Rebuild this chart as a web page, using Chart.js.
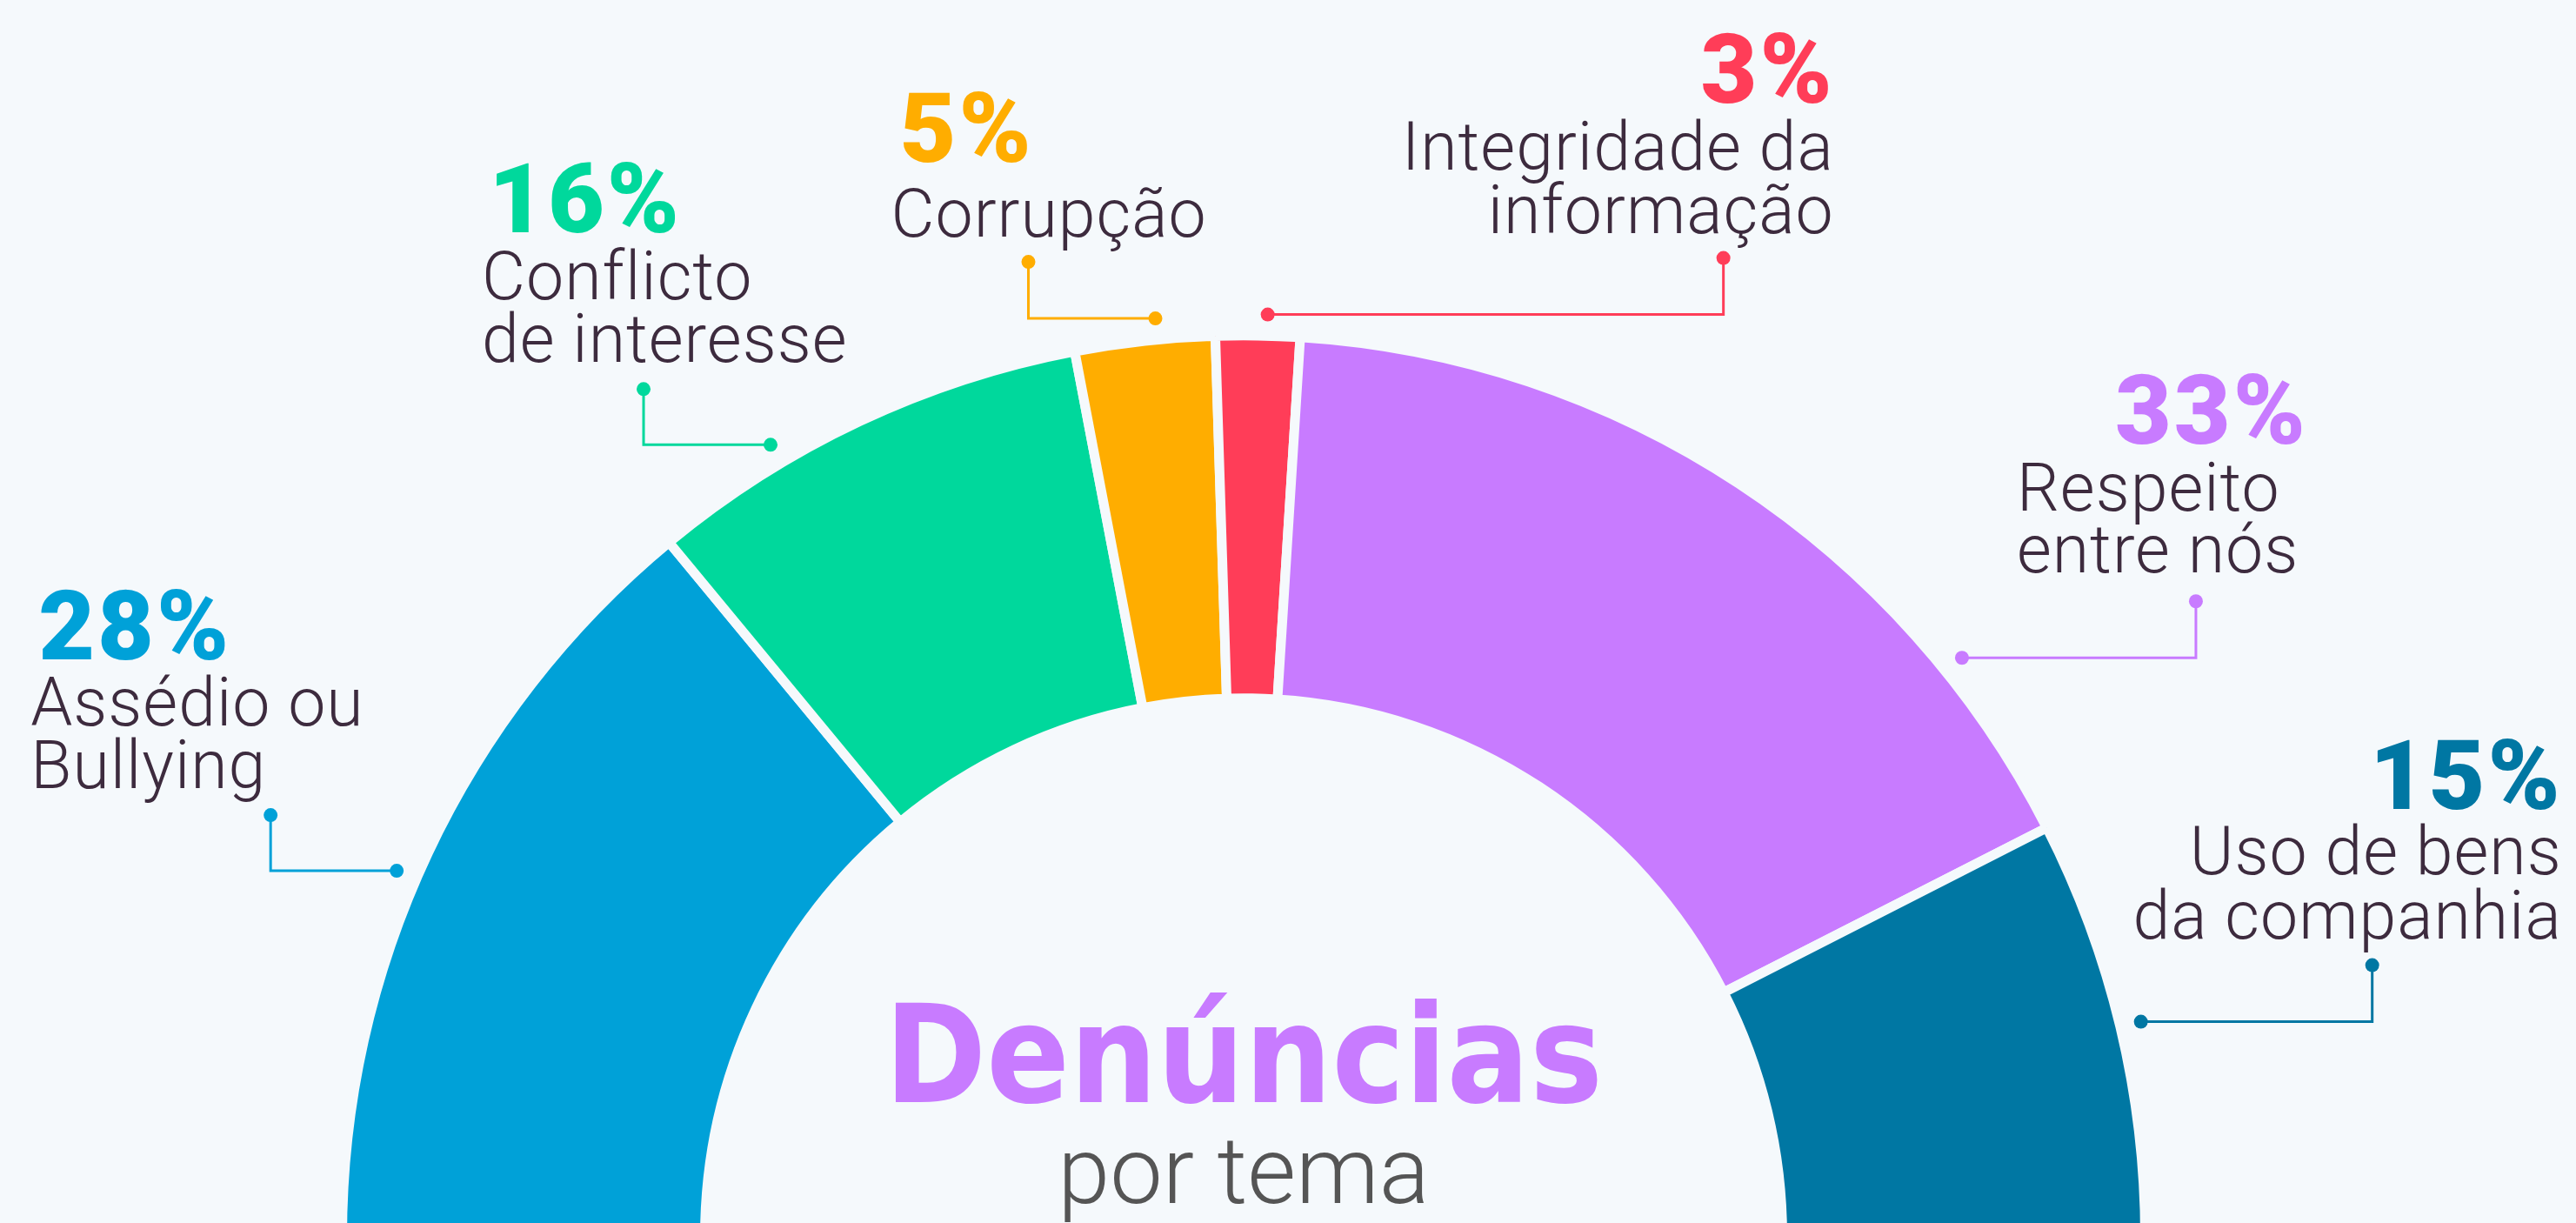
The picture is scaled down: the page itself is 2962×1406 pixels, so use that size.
<!DOCTYPE html>
<html lang="pt">
<head>
<meta charset="utf-8">
<title>Denúncias por tema</title>
<script src="https://cdn.jsdelivr.net/npm/chart.js@4.4.1/dist/chart.umd.min.js"></script>
<style>
  html, body { margin: 0; padding: 0; background: #f5f9fc; overflow: hidden; }
  #wrap { width: 2962px; height: 1406px; overflow: hidden; position: relative; }
  canvas { display: block; }
</style>
</head>
<body>
<div id="wrap"><canvas id="chart" width="2962" height="1808"></canvas></div>
<script>
// ---- data ----
const categories = [
  'Assédio ou Bullying',
  'Conflicto de interesse',
  'Corrupção',
  'Integridade da informação',
  'Respeito entre nós',
  'Uso de bens da companhia'
];
const labelLines = [
  ['Assédio ou', 'Bullying'],
  ['Conflicto', 'de interesse'],
  ['Corrupção'],
  ['Integridade da', 'informação'],
  ['Respeito', 'entre nós'],
  ['Uso de bens', 'da companhia']
];
const values = [28, 16, 5, 3, 33, 15];
const titleText = 'Denúncias';
const subtitleText = 'por tema';

// ---- styles ----
const palette = ['#00a1d8', '#00d89c', '#ffad00', '#ff3d58', '#c87bff', '#0077a3'];
const BG = '#f5f9fc';
const TEXT = '#3d2b3e';
const GAP = 11;

// Callout geometry: anchor position along each arc (0..1), elbow offset,
// vertical rise, and text offsets relative to the upper dot.
const calloutLayout = [
  { t: 0.464, dx: -145, rise: 64, pctAlign: 'left',  pctX: -267, pctY: -179, align: 'left',  textX: -276, lineY: [-103, -31] },
  { t: 0.304, dx: -146, rise: 64, pctAlign: 'left',  pctX: -178, pctY: -180, align: 'left',  textX: -186, lineY: [-103, -31] },
  { t: 0.590, dx: -146, rise: 65, pctAlign: 'left',  pctX: -148, pctY: -115, align: 'left',  textX: -158, lineY: [-29] },
  { t: 0.610, dx: 524,  rise: 65, pctAlign: 'right', pctX: 128,  pctY: -179, align: 'right', textX: 127,  lineY: [-102, -29] },
  { t: 0.800, dx: 269,  rise: 65, pctAlign: 'right', pctX: 129,  pctY: -181, align: 'left',  textX: -206, lineY: [-104, -33] },
  { t: 0.500, dx: 266,  rise: 65, pctAlign: 'right', pctX: 219,  pctY: -180, align: 'right', textX: 218,  lineY: [-105, -31] }
];

const calloutPlugin = {
  id: 'callouts',
  afterDatasetsDraw(chart) {
    const ctx = chart.ctx;
    const arcs = chart.getDatasetMeta(0).data;
    let cx = 0, cy = 0;
    arcs.forEach((arc, i) => {
      const p = arc.getProps(['x', 'y', 'startAngle', 'endAngle', 'outerRadius'], true);
      cx = p.x; cy = p.y;
      const L = calloutLayout[i];
      const color = palette[i];
      const a = p.startAngle + (p.endAngle - p.startAngle) * L.t;
      const r = p.outerRadius - GAP / 2 + 30;
      const ax = p.x + Math.cos(a) * r;
      const ay = p.y + Math.sin(a) * r;
      const ex = ax + L.dx;
      const ey = ay - L.rise;

      ctx.save();
      ctx.strokeStyle = color;
      ctx.fillStyle = color;
      ctx.lineWidth = 3;
      ctx.beginPath();
      ctx.moveTo(ax, ay);
      ctx.lineTo(ex, ay);
      ctx.lineTo(ex, ey);
      ctx.stroke();
      [[ax, ay], [ex, ey]].forEach(([dx, dy]) => {
        ctx.beginPath();
        ctx.arc(dx, dy, 8, 0, Math.PI * 2);
        ctx.fill();
      });

      ctx.textBaseline = 'alphabetic';
      ctx.font = '900 112px Roboto';
      ctx.letterSpacing = '3px';
      ctx.textAlign = L.pctAlign;
      ctx.fillText(values[i] + '%', ex + L.pctX, ey + L.pctY);

      ctx.letterSpacing = '1px';
      ctx.font = '300 77px Roboto';
      ctx.fillStyle = TEXT;
      ctx.textAlign = L.align;
      labelLines[i].forEach((line, k) => {
        ctx.fillText(line, ex + L.textX, ey + L.lineY[k]);
      });
      ctx.restore();
    });

    // centre title
    ctx.save();
    ctx.textAlign = 'center';
    ctx.textBaseline = 'alphabetic';
    ctx.fillStyle = palette[4];
    ctx.font = '700 156px "DejaVu Sans"';
    ctx.translate(cx, cy - 155);
    ctx.scale(0.905, 1);
    ctx.fillText(titleText, 0, 0);
    ctx.restore();

    ctx.save();
    ctx.textAlign = 'center';
    ctx.textBaseline = 'alphabetic';
    ctx.fillStyle = '#555555';
    ctx.font = '300 108px Roboto';
    ctx.fillText(subtitleText, cx, cy - 39);
    ctx.restore();
  }
};

new Chart(document.getElementById('chart'), {
  type: 'doughnut',
  data: {
    labels: categories,
    datasets: [{
      data: values,
      backgroundColor: palette,
      borderColor: BG,
      borderWidth: GAP,
      hoverOffset: 0
    }]
  },
  options: {
    responsive: false,
    animation: false,
    rotation: -90,
    circumference: 180,
    radius: 1031 + GAP / 2,
    cutout: ((625 - GAP / 2) / (1031 + GAP / 2) * 100).toFixed(3) + '%',
    layout: { padding: { left: 0, right: 102, top: 0, bottom: 0 } },
    plugins: {
      legend: { display: false },
      tooltip: { enabled: false }
    }
  },
  plugins: [calloutPlugin]
});
</script>
</body>
</html>
